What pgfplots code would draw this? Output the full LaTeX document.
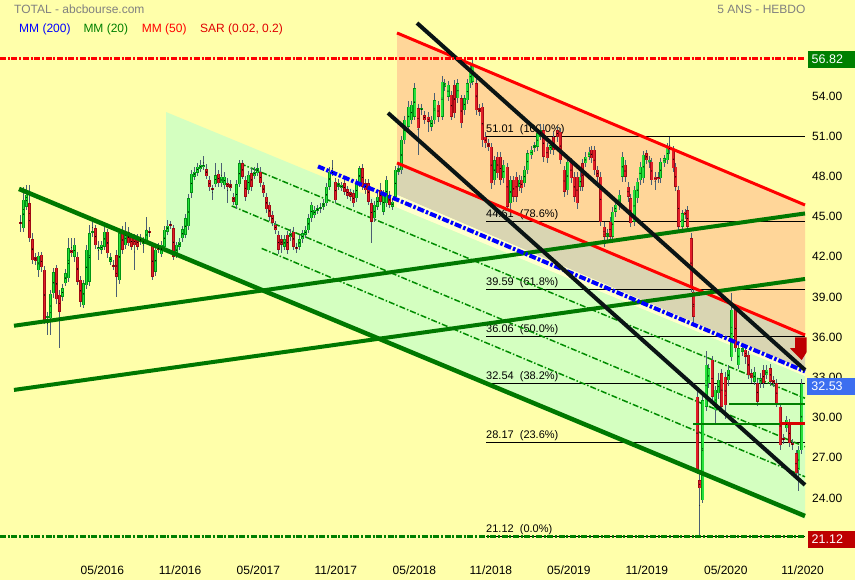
\documentclass[border=0pt]{standalone}
\usepackage{pgfplots}
\pgfplotsset{compat=1.18}
\usepackage{pgfplotstable}
\usepackage{fontspec}
\setmainfont{Liberation Sans}

\definecolor{bgy}{RGB}{255,255,170}
\definecolor{orfill}{RGB}{255,214,153}
\definecolor{grayband}{RGB}{217,213,178}
\definecolor{pale}{RGB}{255,255,205}
\definecolor{grfill}{RGB}{212,255,192}
\definecolor{dkgreen}{RGB}{0,120,0}
\definecolor{dashgreen}{RGB}{0,140,0}
\definecolor{cG}{RGB}{40,225,60}
\definecolor{cGd}{RGB}{0,150,20}
\definecolor{cR}{RGB}{225,30,40}
\definecolor{cRd}{RGB}{160,10,20}
\definecolor{wick}{RGB}{75,95,115}
\definecolor{boxblue}{RGB}{60,110,240}
\definecolor{boxred}{RGB}{190,0,0}
\definecolor{boxgreen}{RGB}{0,128,0}
\definecolor{txtgray}{RGB}{128,128,128}
\definecolor{blk}{RGB}{10,20,20}

% weekly candles: x = week index, t/b = body top/bottom, h/l = high/low
\pgfplotstableread{
x t b h l
1 46.25 44.13 47.19 43.89
2 46.62 45.75 47.37 45.5
6 42.07 41.02 42.39 40.53
9 37.59 37.42 37.9 36.17
10 39.23 37.42 39.5 36.17
11 40.85 39.28 41.2 38.9
14 39.66 39.03 40.0 38.7
15 40.78 40.03 41.1 39.8
16 42.64 40.4 43.4 40.1
18 42.89 42.02 43.39 41.6
21 40.03 38.41 40.3 38.2
22 42.52 39.9 42.9 39.6
23 43.76 40.15 44.38 39.8
24 43.94 43.76 44.88 43.5
26 42.77 42.62 43.2 41.77
27 42.89 42.52 43.2 42.2
28 43.89 42.77 44.2 42.5
30 41.97 41.65 42.3 41.4
33 43.76 40.28 43.9 40.0
35 43.89 42.89 44.63 42.6
40 43.39 43.14 43.7 42.9
41 43.26 42.97 43.5 42.27
42 44.01 43.26 45.01 43.0
45 42.52 40.9 42.8 40.6
47 42.89 42.22 43.2 42.0
48 44.01 42.77 44.3 42.5
49 44.31 43.89 44.76 43.6
52 42.89 42.14 43.1 41.9
53 43.14 42.77 43.4 42.5
54 44.06 43.39 44.3 43.1
55 44.88 43.64 45.2 43.4
56 46.37 44.31 46.7 44.0
57 48.19 46.8 48.5 46.4
58 48.36 47.99 48.7 47.7
59 48.74 48.29 49.0 48.0
60 48.86 48.54 49.2 48.3
61 48.86 48.74 49.53 48.5
65 48.11 47.44 48.99 47.2
67 47.99 47.49 48.99 47.2
68 47.99 47.37 48.3 47.1
72 47.42 45.88 47.7 45.6
73 48.99 47.42 49.2 47.2
76 48.11 46.99 48.4 46.7
78 48.36 48.04 48.7 47.8
79 48.61 48.24 49.0 48.0
88 43.31 42.77 43.6 42.5
90 43.81 43.46 44.1 43.2
93 43.31 42.77 43.6 42.5
94 43.76 43.31 44.0 43.0
95 44.01 43.64 44.3 43.4
96 44.88 44.01 45.2 43.8
97 45.88 44.88 46.12 44.6
98 45.5 45.13 45.8 44.9
99 45.63 45.45 45.9 45.2
100 45.75 45.55 46.0 45.3
101 46.0 45.75 46.3 45.5
102 47.24 46.0 47.5 45.8
103 48.36 47.24 48.7 47.0
104 48.36 48.24 49.23 48.0
106 47.49 47.24 47.8 47.0
107 47.37 47.12 47.6 46.9
112 47.49 46.37 47.8 46.1
113 48.61 47.49 48.79 47.2
118 45.88 44.88 46.2 44.6
119 46.5 45.75 46.8 45.5
121 46.75 45.38 47.0 45.1
122 47.74 46.0 48.0 45.7
124 46.12 45.75 46.4 45.5
125 48.49 46.5 48.8 46.2
126 48.61 48.36 48.9 48.1
127.0 50.72 48.48 51.0 48.2
128.1 52.21 50.72 52.5 50.4
129.4 53.20 51.71 53.6 51.4
130.3 53.33 52.21 53.6 51.9
131.4 54.57 52.46 54.95 52.2
133.6 53.08 52.96 53.4 52.6
137.0 52.21 51.71 52.5 51.4
138.1 53.70 52.21 54.2 51.9
140.5 55.07 52.46 55.5 52.2
141.4 54.95 54.70 55.3 54.4
142.5 54.82 53.95 55.1 53.6
145.8 54.95 53.83 55.3 53.5
148.0 53.83 52.96 54.1 52.6
148.9 54.95 53.70 55.3 53.4
149.9 55.94 54.95 56.3 54.6
150.8 56.31 55.07 56.82 54.8
158.0 49.22 47.73 49.5 47.4
161.1 48.85 47.86 49.2 47.5
163.3 47.73 45.99 48.0 45.6
166.3 47.73 47.23 48.1 46.9
168.0 48.48 47.48 48.8 47.2
169.1 49.72 48.48 50.0 48.2
170.2 49.97 49.60 50.3 49.3
171.3 50.34 50.09 50.6 49.8
172.4 51.21 50.22 51.5 49.9
173.3 51.46 50.97 51.9 50.7
176.6 50.34 49.97 50.6 49.7
182.4 49.10 46.99 49.4 46.6
186.6 47.98 47.23 48.3 46.9
188.4 49.47 48.98 49.8 48.7
189.5 49.85 49.47 50.2 49.2
195.6 43.75 43.50 44.1 43.2
197.4 45.37 43.50 45.7 43.2
198.4 45.87 45.37 46.2 45.0
199.5 46.61 45.87 47.0 45.5
200.6 49.47 47.98 49.8 47.6
204.5 46.99 44.62 47.3 44.3
205.6 47.61 46.36 47.9 46.0
206.5 48.73 47.73 49.1 47.4
207.6 49.60 47.86 49.9 47.5
209.5 49.22 49.10 49.5 48.6
213.3 49.10 47.86 49.4 47.5
214.5 49.35 48.98 49.6 48.7
215.6 50.22 49.22 50.5 48.9
220.5 45.25 44.25 45.5 43.9
227.4 31.30 23.85 31.8 23.6
228.5 33.93 30.82 35.0 30.5
229.4 33.68 32.56 34.0 32.2
231.6 32.06 30.57 32.4 29.6
232.7 32.81 31.81 33.3 31.4
236.0 33.55 32.81 33.9 32.4
237.1 38.03 34.50 39.3 34.2
239.4 35.17 33.93 35.6 33.6
240.5 35.17 34.92 35.5 34.6
244.7 33.43 32.68 33.8 32.4
246.6 32.93 32.56 33.3 32.2
248.8 33.55 33.18 33.9 32.9
255.4 29.82 29.20 30.1 28.9
259.4 27.58 26.09 27.9 24.5
260.4 32.53 27.58 32.9 27.3
}\upc

\pgfplotstableread{
x t b h l
0 44.63 44.46 45.13 43.89
3 46.0 43.39 47.37 43.1
4 43.31 41.77 43.8 41.5
5 41.97 41.72 42.3 41.4
7 42.14 41.22 42.4 40.9
8 41.02 37.29 41.3 37.0
12 41.2 38.84 41.4 38.5
13 39.16 37.92 39.5 35.18
17 42.52 42.27 43.4 42.0
19 42.02 40.15 42.4 39.9
20 40.28 38.66 40.6 38.29
25 44.13 42.89 44.4 42.6
29 43.89 42.27 44.1 41.9
31 41.4 41.22 41.8 41.0
32 42.12 40.53 42.5 39.03
34 44.01 42.52 44.3 42.2
36 43.89 43.01 44.2 42.8
37 43.51 42.77 43.8 42.5
38 43.39 42.89 43.7 41.02
39 43.39 42.77 43.7 42.5
43 43.89 43.76 44.2 43.5
44 42.82 40.53 43.1 40.3
46 42.77 42.52 43.0 42.3
50 44.46 44.31 44.7 44.1
51 44.13 42.02 44.4 41.8
62 48.54 48.04 48.9 47.8
63 47.74 47.19 48.0 46.9
64 47.12 46.99 47.4 46.25
66 48.19 47.49 48.5 47.2
69 47.54 47.24 47.9 46.0
70 47.42 47.12 47.7 46.9
71 46.5 46.12 46.8 45.9
74 48.99 47.99 49.2 47.8
75 47.74 46.5 48.0 46.2
77 48.24 47.24 48.6 46.9
80 48.36 47.49 48.7 47.2
81 47.37 46.75 47.6 46.5
82 46.5 45.55 46.8 45.3
83 45.88 45.01 46.1 44.7
84 45.13 44.56 45.4 44.3
85 44.38 44.01 44.7 43.7
86 43.64 42.52 43.9 42.2
87 43.31 42.89 43.6 42.27
89 43.64 42.52 43.9 42.2
91 43.89 42.77 44.2 42.5
92 42.77 42.62 43.0 42.3
105 47.62 46.25 47.9 46.0
108 47.49 46.87 47.8 46.6
109 47.04 46.55 47.3 46.3
110 46.87 46.5 47.1 46.2
111 46.75 46.0 47.0 45.7
114 48.61 47.24 48.9 47.0
115 47.49 46.99 47.8 46.7
116 47.49 46.12 47.8 45.9
117 46.0 44.63 46.3 43.06
120 46.99 46.12 47.49 45.9
123 46.62 45.88 46.9 45.63
132.5 53.08 51.59 53.4 49.6
134.7 52.58 52.21 52.9 51.9
135.9 52.46 52.09 52.8 51.34
139.2 53.33 52.46 53.6 52.1
143.6 54.08 52.46 54.4 52.2
144.7 54.82 52.71 55.2 52.4
146.9 53.83 51.96 54.1 51.6
151.9 54.95 52.96 55.5 52.6
153.0 53.08 52.83 53.4 52.5
153.9 53.20 50.72 53.5 50.2
154.9 50.97 50.47 51.3 50.1
156.0 50.47 50.22 50.8 49.9
156.9 50.22 47.48 50.5 47.1
159.1 49.47 48.23 49.8 47.9
160.0 49.47 47.73 49.8 47.4
162.2 48.73 45.74 49.0 45.4
164.4 47.73 46.49 48.0 46.1
165.2 47.98 46.49 48.3 46.1
167.1 47.73 47.11 48.0 46.8
174.4 51.46 49.47 51.9 49.1
175.5 50.22 49.35 50.5 49.0
177.7 50.97 49.97 51.3 49.6
179.0 51.46 50.97 51.8 50.6
179.9 51.34 49.22 51.6 48.9
181.2 48.48 46.86 48.8 46.5
183.5 49.10 47.86 49.4 47.5
184.6 47.98 46.49 48.3 46.1
185.5 47.98 45.99 48.3 45.6
187.3 48.98 47.23 49.3 46.9
190.3 49.97 49.35 50.3 49.0
191.2 49.97 48.48 50.3 48.1
192.3 48.48 47.98 48.8 47.6
193.4 47.98 44.62 48.3 44.3
194.5 44.25 43.50 44.6 42.76
196.5 44.62 43.50 45.0 43.1
201.5 48.85 47.98 49.2 47.6
202.5 47.23 46.49 47.6 46.1
203.4 46.36 44.50 46.7 44.2
208.7 49.72 49.22 50.0 48.9
210.4 49.10 47.73 49.4 47.4
211.5 47.98 47.73 48.3 47.0
212.5 47.98 47.86 48.3 47.5
216.4 50.22 49.97 50.97 49.7
217.6 49.97 48.60 50.3 48.3
218.4 48.73 47.23 49.0 46.9
219.4 46.99 44.25 47.3 43.9
221.6 45.37 45.12 45.6 44.8
222.4 45.49 44.25 45.8 43.9
223.5 43.38 39.65 43.8 39.4
224.4 39.40 37.53 39.7 36.9
225.5 31.56 26.09 32.0 25.8
226.4 25.34 24.72 25.8 21.12
230.5 34.30 31.56 34.6 31.2
233.8 33.30 30.82 33.6 30.5
234.9 33.05 30.94 33.4 29.9
238.3 38.10 35.17 38.4 34.9
241.6 35.05 34.55 35.3 34.0
242.7 34.67 33.18 35.0 32.9
243.8 33.30 32.93 33.6 32.6
245.7 32.56 31.19 32.9 30.9
247.7 33.55 32.56 33.9 32.2
249.9 33.68 32.68 34.0 32.4
251.0 32.81 32.56 33.1 32.3
252.1 32.56 31.07 32.9 30.8
253.2 30.82 27.96 31.1 27.6
254.3 28.45 28.33 28.8 28.0
256.3 29.57 28.08 29.9 27.8
257.4 28.08 27.96 28.4 27.6
258.5 27.33 25.84 27.6 25.5
}\dnc

\pgfplotsset{
  hidemarks/.style={only marks, mark=*, mark size=0.1pt, mark options={draw=none, fill=none}},
  wicks/.style={hidemarks, error bars/.cd, y dir=both, y explicit,
    error mark=none, error bar style={line width=1pt, color=wick}},
  bodies/.style 2 args={hidemarks, error bars/.cd, y dir=both, y explicit,
    error mark=none, error bar style={line width=#1, color=#2}},
}

\begin{document}
\begin{tikzpicture}
\fill[bgy] (0,0) rectangle (855pt,-580pt);
\begin{axis}[
    at={(0pt,0pt)}, anchor=north west,
    scale only axis, width=805pt, height=555pt,
    xmin=-6.833, xmax=261.5, ymin=19.75, ymax=61.17,
    clip=false,
    axis line style={draw=none}, tick style={draw=none},
    xtick={27.3,53.2,79.3,105.1,131.3,156.8,182.8,208.8,235.1,260.7},
    xticklabels={05/2016,11/2016,05/2017,11/2017,05/2018,11/2018,05/2019,11/2019,05/2020,11/2020},
    ytick={24,27,30,33,36,39,42,45,48,51,54,57},
    yticklabel pos=right,
    ticklabel style={font=\fontsize{12}{14}\selectfont},
    yticklabel style={anchor=west, inner sep=0pt, xshift=7pt},
    xticklabel style={anchor=center, inner sep=0pt, yshift=-15pt},
    /pgf/number format/fixed,
    /pgf/number format/fixed zerofill,
    /pgf/number format/precision=2,
    /pgf/number format/assume math mode=true,
]
% channel fills
\addplot[fill=grfill, draw=none] coordinates {(48.5,52.81) (261.5,33.11) (261.5,22.45) (48.5,42.40)} -- cycle;
\addplot[fill=orfill, draw=none] coordinates {(125.5,58.71) (261.5,45.87) (261.5,36.17) (125.5,49.01)} -- cycle;
\addplot[fill=grayband, draw=none] coordinates {(125.5,49.01) (261.5,36.17) (261.5,33.56) (125.5,46.62)} -- cycle;
\addplot[fill=pale, draw=none] coordinates {(125.5,46.62) (261.5,33.56) (261.5,33.11) (125.5,45.69)} -- cycle;

% Fibonacci levels
\foreach \lv/\pc in {51.01/100.0,44.61/78.6,39.59/61.8,36.06/50.0,32.54/38.2,28.17/23.6,21.12/0.0}{
  \edef\tmp{\noexpand\addplot[black, line width=1pt] coordinates {(155.17,\lv) (261.5,\lv)};}\tmp
  \edef\tmp{\noexpand\node[anchor=south west, inner sep=0pt, yshift=1.5pt, font=\noexpand\fontsize{11}{13}\noexpand\selectfont]
    at (axis cs:155.17,\lv) {\lv\noexpand\ \noexpand\ (\pc\noexpand\%)};}\tmp
}

% inner dash-dot lines of the green channel
\addplot[dashgreen, line width=1.5pt, dash pattern=on 6pt off 2pt on 1.5pt off 2pt] coordinates {(73.17,48.97) (261.5,31.45)};
\addplot[dashgreen, line width=1.5pt, dash pattern=on 6pt off 2pt on 1.5pt off 2pt] coordinates {(70.4,45.80) (261.5,27.83)};
\addplot[dashgreen, line width=1.5pt, dash pattern=on 6pt off 2pt on 1.5pt off 2pt] coordinates {(80.4,42.63) (261.5,25.59)};

% candles
\addplot[wicks] table[x=x, y expr={(\thisrow{h}+\thisrow{l})/2}, y error expr={(\thisrow{h}-\thisrow{l})/2}] {\upc};
\addplot[wicks] table[x=x, y expr={(\thisrow{h}+\thisrow{l})/2}, y error expr={(\thisrow{h}-\thisrow{l})/2}] {\dnc};
\addplot[bodies={3pt}{cGd}] table[x=x, y expr={(\thisrow{t}+\thisrow{b})/2}, y error expr={max((\thisrow{t}-\thisrow{b})/2,0.07)}] {\upc};
\addplot[bodies={1.7pt}{cG}] table[x=x, y expr={(\thisrow{t}+\thisrow{b})/2}, y error expr={max((\thisrow{t}-\thisrow{b})/2-0.03,0.04)}] {\upc};
\addplot[bodies={3pt}{cRd}] table[x=x, y expr={(\thisrow{t}+\thisrow{b})/2}, y error expr={max((\thisrow{t}-\thisrow{b})/2,0.07)}] {\dnc};
\addplot[bodies={1.7pt}{cR}] table[x=x, y expr={(\thisrow{t}+\thisrow{b})/2}, y error expr={max((\thisrow{t}-\thisrow{b})/2-0.03,0.04)}] {\dnc};

% red channel
\addplot[red, line width=3pt] coordinates {(125.5,58.71) (261.5,45.87)};
\addplot[red, line width=3pt] coordinates {(125.5,49.01) (261.5,36.17)};
% green trend lines
\addplot[dkgreen, line width=4.5pt] coordinates {(-0.5,47.07) (261.5,22.66)};
\addplot[dkgreen, line width=4pt] coordinates {(-2.17,36.86) (261.5,45.24)};
\addplot[dkgreen, line width=4pt] coordinates {(-2.17,32.07) (261.5,40.35)};
% blue dash-dot
\addplot[blue, line width=4pt, dash pattern=on 7pt off 2pt on 2.5pt off 2pt] coordinates {(99.17,48.75) (261.5,33.45)};
% black trend lines
\addplot[blk, line width=4pt] coordinates {(132.17,59.45) (261.5,33.56)};
\addplot[blk, line width=4pt] coordinates {(122.5,52.74) (261.5,24.98)};
% extremes
\addplot[red, line width=3pt, dash pattern=on 6pt off 1.7pt on 2pt off 1.7pt] coordinates {(-6.833,56.82) (261.5,56.82)};
\addplot[boxgreen, line width=3pt, dash pattern=on 6pt off 1.7pt on 2pt off 1.7pt] coordinates {(-6.833,21.12) (261.5,21.12)};
% moving average levels
\addplot[boxgreen, line width=2.6pt] coordinates {(236.17,31.02) (261.5,31.02)};
\addplot[boxgreen, line width=2.6pt] coordinates {(224.17,29.53) (261.5,29.53)};
\addplot[red!85!black, line width=3.5pt] coordinates {(253.17,29.56) (261.5,29.56)};
% SAR arrow
\addplot[fill=boxred, draw=none] coordinates {(258.17,36.0) (262.07,36.0) (262.07,34.9) (260.4,34.30) (256.5,35.18) (258.17,35.18)} -- cycle;
\end{axis}

% value boxes on the right
\node[anchor=west, fill=boxgreen, inner sep=0pt, minimum height=17pt, text=white, font=\fontsize{12.5}{14}\selectfont]
  at (808pt,-59.3pt) {\makebox[47pt][l]{\hspace{3.5pt}56.82}};
\node[anchor=west, fill=boxblue, inner sep=0pt, minimum height=17pt, text=white, font=\fontsize{12.5}{14}\selectfont]
  at (806.7pt,-386.6pt) {\makebox[48.3pt][l]{\hspace{4.5pt}32.53}};
\node[anchor=west, fill=boxred, inner sep=0pt, minimum height=17pt, text=white, font=\fontsize{12.5}{14}\selectfont]
  at (808pt,-539.5pt) {\makebox[47pt][l]{\hspace{3.5pt}21.12}};

% header
\node[anchor=base west, inner sep=0pt, text=txtgray, font=\fontsize{12}{14}\selectfont] at (14pt,-13.3pt) {TOTAL - abcbourse.com};
\node[anchor=base east, inner sep=0pt, text=txtgray, font=\fontsize{12}{14}\selectfont] at (805.7pt,-13.3pt) {5 ANS - HEBDO};
\node[anchor=base west, inner sep=0pt, text=blue, font=\fontsize{12}{14}\selectfont] at (19pt,-32.3pt) {MM (200)};
\node[anchor=base west, inner sep=0pt, text=boxgreen, font=\fontsize{12}{14}\selectfont] at (83.3pt,-32.3pt) {MM (20)};
\node[anchor=base west, inner sep=0pt, text=red, font=\fontsize{12}{14}\selectfont] at (141.7pt,-32.3pt) {MM (50)};
\node[anchor=base west, inner sep=0pt, text=red!88!black, font=\fontsize{12}{14}\selectfont] at (200pt,-32.3pt) {SAR (0.02, 0.2)};

\pgfresetboundingbox
\useasboundingbox (0,0) rectangle (855pt,-580pt);
\end{tikzpicture}
\end{document}
